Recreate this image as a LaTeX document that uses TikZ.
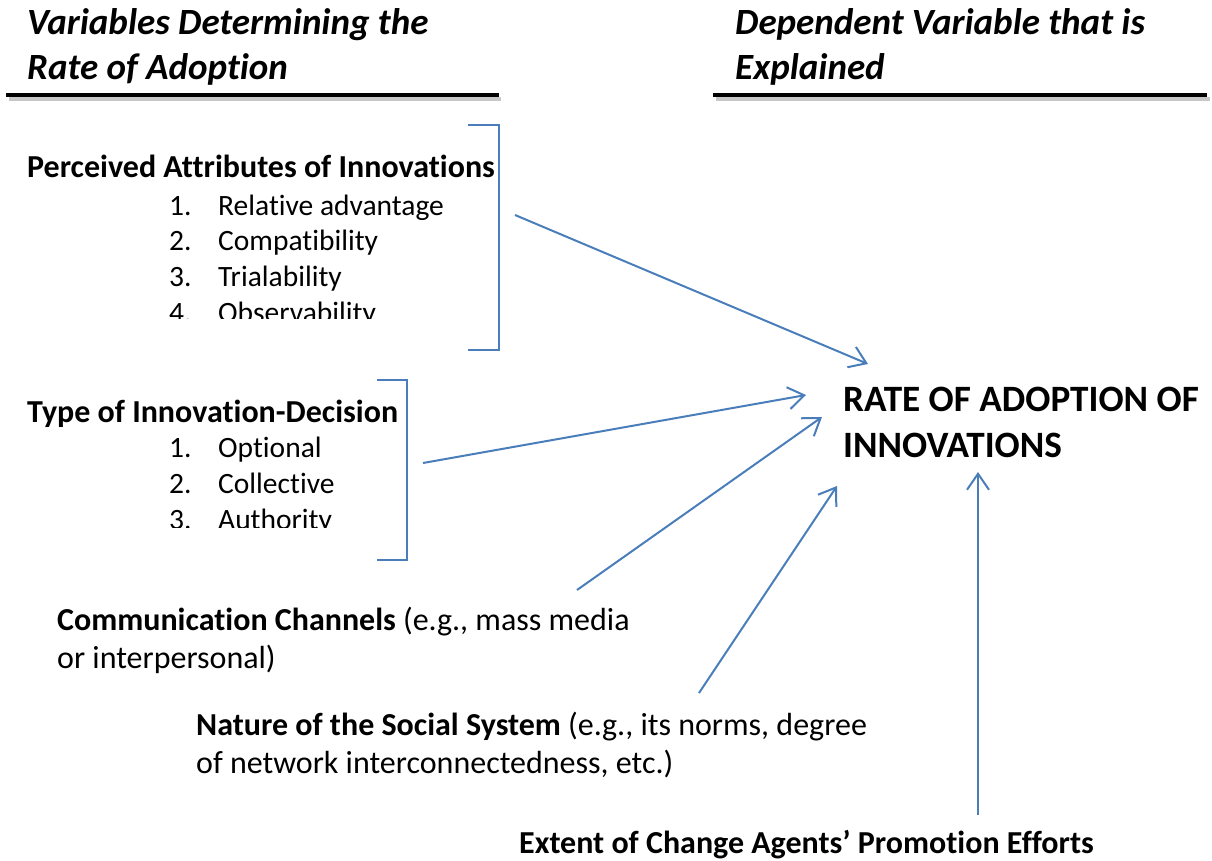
\documentclass[tikz,border=0pt]{standalone}
\usepackage{fontspec}
\setmainfont{Carlito}[Ligatures=NoCommon]
\usetikzlibrary{arrows.meta}

\definecolor{linkblue}{HTML}{4A7EBB}

\begin{document}
\begin{tikzpicture}[
    x=1pt, y=-1pt,
    heading/.style={anchor=base west, inner sep=0pt, align=left, font=\fontsize{37}{45}\selectfont\bfseries\itshape},
    listhead/.style={anchor=base west, inner sep=0pt, font=\fontsize{32}{36}\selectfont\bfseries},
    entry/.style={anchor=base west, inner sep=0pt, font=\fontsize{29.5}{36}\selectfont},
    note/.style={anchor=base west, inner sep=0pt, align=left, font=\fontsize{32}{38}\selectfont},
    outcome/.style={anchor=base west, inner sep=0pt, align=left, font=\fontsize{37.2}{46}\selectfont\bfseries},
    headrule/.style={line width=4pt},
    bracket/.style={draw=linkblue, line width=2pt},
    arrow/.style={draw=linkblue, line width=2pt, -{Straight Barb[length=16pt,width=22pt]}}
]
\useasboundingbox (0,0) rectangle (1212,861);

% Column headings (anchored on the last line)
\node[heading] (lefthead) at (27,80) {Variables Determining the\\Rate of Adoption};
\node[heading] (righthead) at (735,80) {Dependent Variable that is\\Explained};
\draw[headrule, black!22] (9,99) -- (501,99);
\draw[headrule] (6,95) -- (499,95);
\draw[headrule, black!22] (716,99) -- (1210,99);
\draw[headrule] (713,95) -- (1207,95);

% Perceived attributes
\node[listhead] (attr) at (27,178) {Perceived Attributes of Innovations};
\begin{scope}
\clip (0,120) rectangle (460,318);
\node[entry] (attr1) at (169,215) {\makebox[49pt][l]{1.}Relative advantage};
\node[entry] (attr2) at (169,250) {\makebox[49pt][l]{2.}Compatibility};
\node[entry] (attr3) at (169,286) {\makebox[49pt][l]{3.}Trialability};
\node[entry] (attr4) at (169,322) {\makebox[49pt][l]{4.}Observability};
\end{scope}
\draw[bracket] (468,125) -- (499,125) -- (499,350) -- (468,350);

% Type of decision
\node[listhead] (decision) at (27,422) {Type of Innovation-Decision};
\begin{scope}
\clip (0,430) rectangle (400,527);
\node[entry] (dec1) at (169,457) {\makebox[49pt][l]{1.}Optional};
\node[entry] (dec2) at (169,493) {\makebox[49pt][l]{2.}Collective};
\node[entry] (dec3) at (169,529) {\makebox[49pt][l]{3.}Authority};
\end{scope}
\draw[bracket] (377,380) -- (407,380) -- (407,560) -- (377,560);

% Other variables (anchored on the last line)
\node[note] (channels) at (57,668) {\textbf{Communication Channels} (e.g., mass media\\or interpersonal)};
\node[note] (social) at (196,773) {\textbf{Nature of the Social System} (e.g., its norms, degree\\of network interconnectedness, etc.)};
\node[note] (agents) at (519,853) {\textbf{Extent of Change Agents’ Promotion Efforts}};

% Dependent variable
\node[outcome] (rate) at (843,457) {RATE OF ADOPTION OF\\INNOVATIONS};

% Arrow ends
\coordinate (attr-out) at (515,215);
\coordinate (dec-out) at (423,463);
\coordinate (chan-out) at (577,590);
\coordinate (soc-out) at (699,693);
\coordinate (agent-out) at (978,815);
\coordinate (rate-in1) at (868,364);
\coordinate (rate-in2) at (806,395);
\coordinate (rate-in3) at (822,417);
\coordinate (rate-in4) at (837,486);
\coordinate (rate-in5) at (978,472);

% Arrows
\draw[arrow] (attr-out) -- (rate-in1);
\draw[arrow] (dec-out) -- (rate-in2);
\draw[arrow] (chan-out) -- (rate-in3);
\draw[arrow] (soc-out) -- (rate-in4);
\draw[arrow] (agent-out) -- (rate-in5);

\end{tikzpicture}
\end{document}
